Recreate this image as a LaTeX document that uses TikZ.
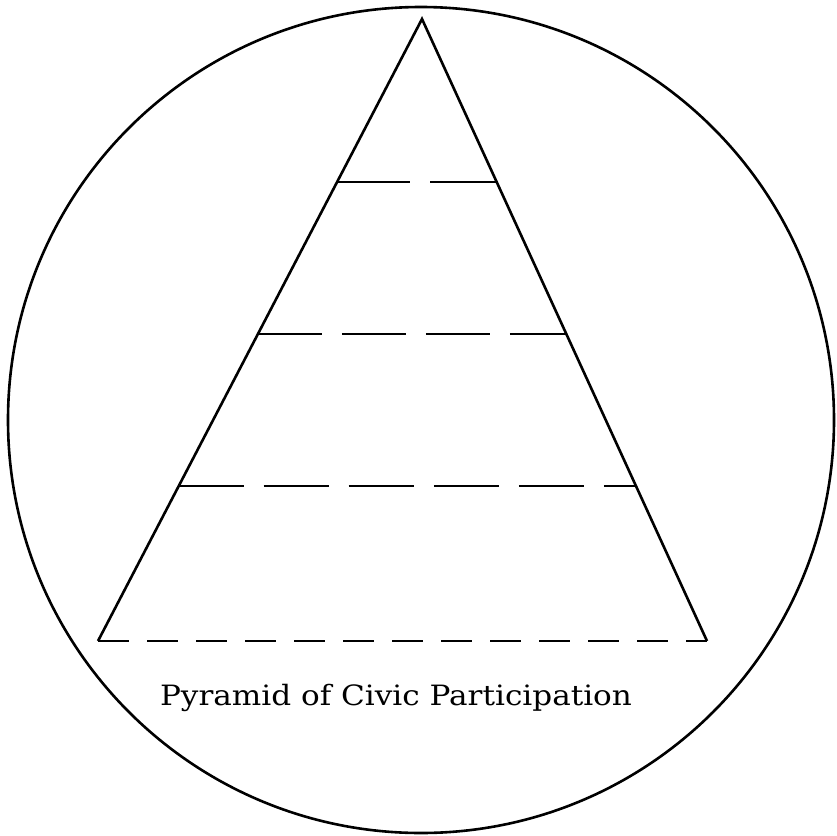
\documentclass[tikz,border=0pt]{standalone}
\usepackage{fontspec}
\setmainfont{DejaVu Serif}
\begin{document}
\begin{tikzpicture}[x=1pt,y=-1pt,
  outline/.style={line width=2.6pt,line join=miter},
  level/.style={line width=2.4pt},
  lbl/.style={font=\fontsize{28}{32}\selectfont,inner sep=0pt}]
\useasboundingbox (0,0) rectangle (837,835);
\fill[white] (0,0) rectangle (837,835);
\node[draw,circle,line width=2.6pt,minimum size=826pt,inner sep=0pt] (c) at (421,420) {};
\coordinate (apex) at (422,19);
\coordinate (bl) at (98,641);
\coordinate (br) at (707,641);
\draw[outline] (bl) -- (apex) -- (br);
\path (apex) -- (bl) coordinate[pos=0.2621] (l1a);
\path (apex) -- (br) coordinate[pos=0.2621] (l1b);
\path (apex) -- (bl) coordinate[pos=0.5064] (l2a);
\path (apex) -- (br) coordinate[pos=0.5064] (l2b);
\path (apex) -- (bl) coordinate[pos=0.7508] (l3a);
\path (apex) -- (br) coordinate[pos=0.7508] (l3b);
\draw[level,dash pattern=on 73pt off 20pt] (l1a) -- (l1b);
\draw[level,dash pattern=on 64pt off 20pt] (l2a) -- (l2b);
\draw[level,dash pattern=on 65pt off 20pt] (l3a) -- (l3b);
\draw[level,dash pattern=on 31pt off 18pt] (bl) -- (br);
\node[lbl,anchor=base] (t) at (396,705) {\scalebox{1.11}[1]{Pyramid of Civic Participation}};
\end{tikzpicture}
\end{document}
